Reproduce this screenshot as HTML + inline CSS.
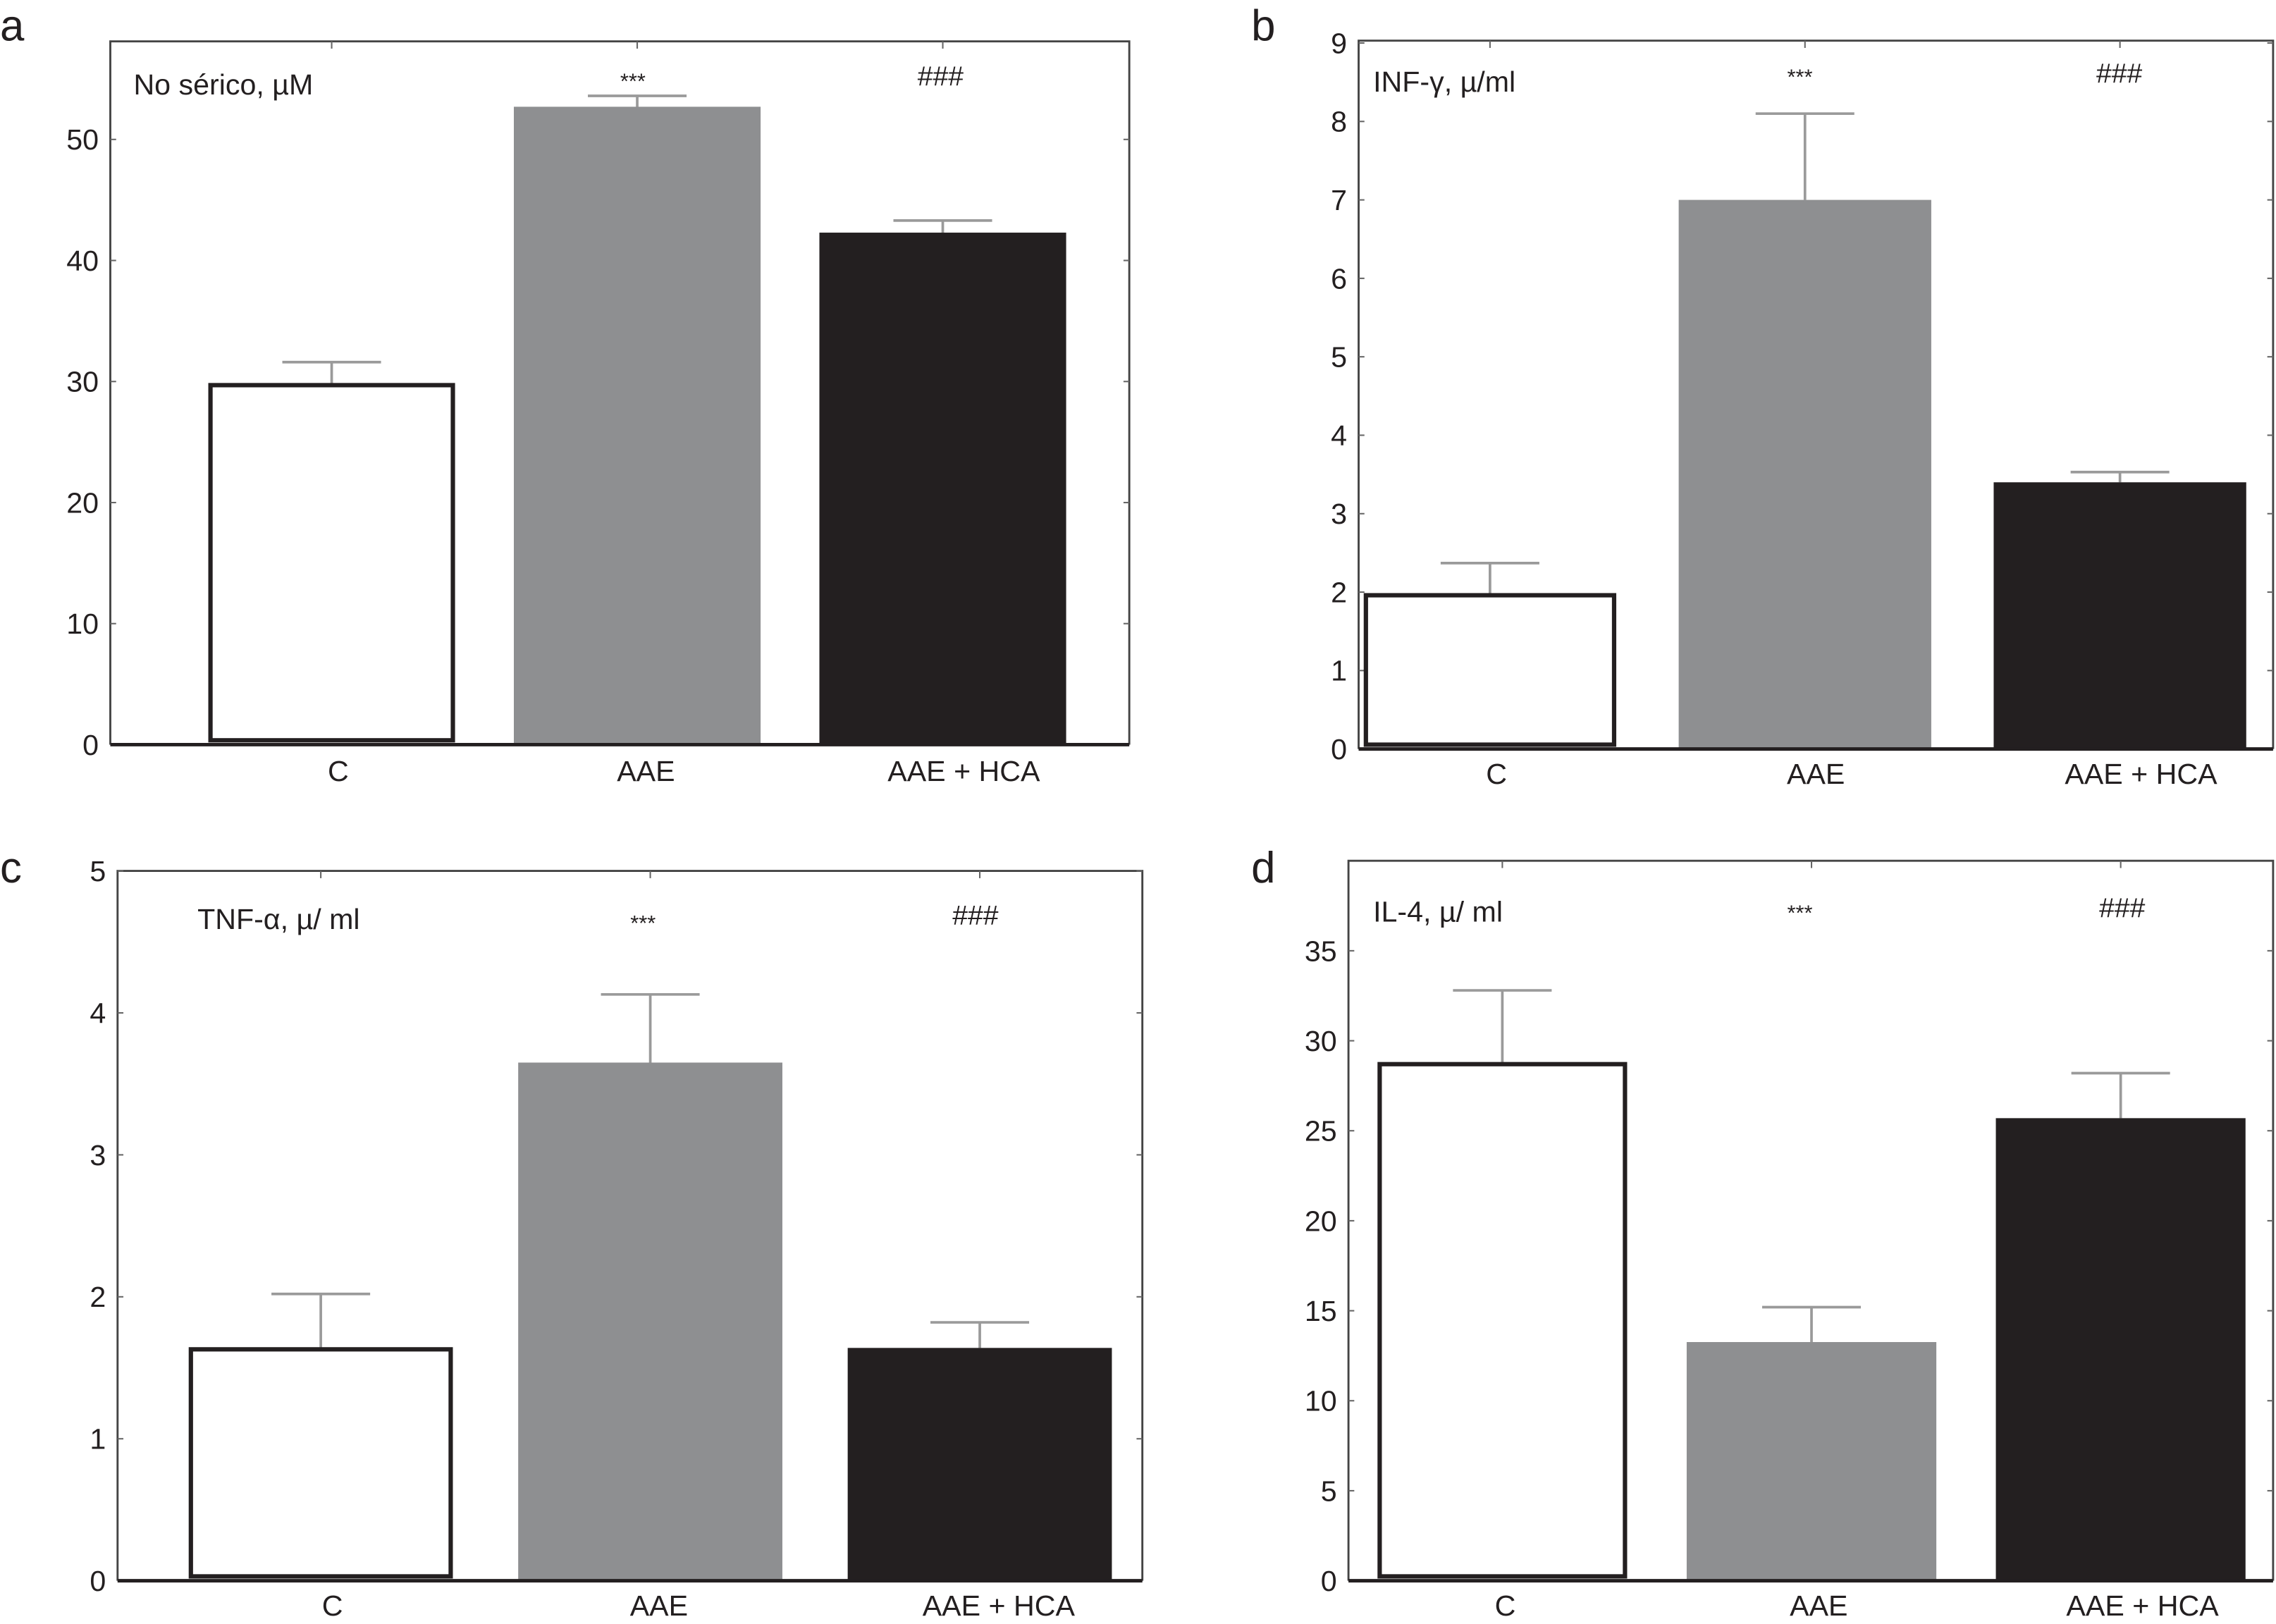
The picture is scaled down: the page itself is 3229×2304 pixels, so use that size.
<!DOCTYPE html>
<html><head><meta charset="utf-8"><style>
html,body{margin:0;padding:0;background:#fff;}
svg{display:block;}
text{font-family:"Liberation Sans",sans-serif;fill:#231f20;}
</style></head><body>
<svg id="fig" xmlns="http://www.w3.org/2000/svg" width="3229" height="2304" viewBox="0 0 1568 1118.8"></svg>
<script>
const categories = ["C", "AAE", "AAE + HCA"];
const valuesA = [29.7, 52.7, 42.3];
const errorsA = [31.6, 53.6, 43.3];
const ticksA = [0, 10, 20, 30, 40, 50];
const valuesB = [1.96, 7.0, 3.4];
const errorsB = [2.37, 8.1, 3.53];
const ticksB = [0, 1, 2, 3, 4, 5, 6, 7, 8, 9];
const valuesC = [1.63, 3.65, 1.64];
const errorsC = [2.02, 4.13, 1.82];
const ticksC = [0, 1, 2, 3, 4, 5];
const valuesD = [28.7, 13.26, 25.7];
const errorsD = [32.8, 15.2, 28.2];
const ticksD = [0, 5, 10, 15, 20, 25, 30, 35];
const titles = ["No sérico, µM", "INF-γ, µ/ml", "TNF-α, µ/ ml", "IL-4, µ/ ml"];
const letters = ["a", "b", "c", "d"];
const marks = ["***", "###"];

const NS = "http://www.w3.org/2000/svg";
const svg = document.getElementById("fig");
function mk(tag, attrs, parent, txt) {
  const e = document.createElementNS(NS, tag);
  for (const k in attrs) e.setAttribute(k, attrs[k]);
  if (txt !== undefined) e.textContent = txt;
  (parent || svg).appendChild(e);
  return e;
}
const fills = ["#ffffff", "#8e8f91", "#231f20"];

const panels = [
  {id:"a", vals:valuesA, errs:errorsA, ticks:ticksA, ymax:58.1, L:76, R:778, T:28.5, B:513, c0:228.5, step:210.5, bw:170, title:[92,58], star:[436,55], hash:[648,52], xl:531, xlc:[233,445,664], letter:[0,28]},
  {id:"b", vals:valuesB, errs:errorsB, ticks:ticksB, ymax:9.03, L:936, R:1566, T:28, B:516, c0:1026.5, step:217, bw:174, title:[946,56], star:[1240,52], hash:[1460,50], xl:533, xlc:[1031,1251,1475], letter:[862,28]},
  {id:"c", vals:valuesC, errs:errorsC, ticks:ticksC, ymax:5.0, L:81, R:787, T:600, B:1089, c0:221, step:227, bw:182, title:[136,633], star:[443,635], hash:[672,630], xl:1106, xlc:[229,454,688], letter:[0,608]},
  {id:"d", vals:valuesD, errs:errorsD, ticks:ticksD, ymax:40.0, L:929, R:1566, T:593, B:1089, c0:1035, step:213, bw:172, title:[946,628], star:[1240,628], hash:[1462,625], xl:1106, xlc:[1037,1253,1476], letter:[862,608]}
];

panels.forEach((p, pi) => {
  const g = mk("g", {});
  
  
  const y = v => p.B - (v / p.ymax) * (p.B - p.T);
  const x = i => p.c0 + i * p.step;

  const lt = mk("text", {x:p.letter[0], y:p.letter[1], "font-size":30}, g, letters[pi]);
  
  

  const fr = mk("path", {d:`M${p.L},${p.B} L${p.L},${p.T} L${p.R},${p.T} L${p.R},${p.B}`, fill:"none", stroke:"#444", "stroke-width":1.4}, g);
  
  

  p.ticks.forEach(t => {
    const yy = y(t);
    mk("line", {x1:p.L, x2:p.L+4, y1:yy, y2:yy, stroke:"#666", "stroke-width":1}, g);
    mk("line", {x1:p.R, x2:p.R-4, y1:yy, y2:yy, stroke:"#666", "stroke-width":1}, g);
    const tl = mk("text", {x:p.L-8, y:yy+7, "font-size":20, "text-anchor":"end"}, g, String(t));
    
    
  });

  p.vals.forEach((v, i) => {
    const cx = x(i);
    const top = y(v);
    const eb = mk("path", {d:`M${cx},${top} L${cx},${y(p.errs[i])} M${cx-34},${y(p.errs[i])} L${cx+34},${y(p.errs[i])}`, stroke:"#9a9a9a", "stroke-width":1.8, fill:"none"}, g);
    
    
    const r = mk("rect", {x:cx-p.bw/2, y:top, width:p.bw, height:p.B-top, fill:fills[i]}, g);
    if (i === 0) { r.setAttribute("stroke", "#231f20"); r.setAttribute("stroke-width", 3); r.setAttribute("x", cx-p.bw/2+1.5); r.setAttribute("width", p.bw-3); r.setAttribute("height", p.B-top-3); }
    
    
    mk("line", {x1:cx, x2:cx, y1:p.T, y2:p.T+5, stroke:"#666", "stroke-width":1}, g);
    const xl = mk("text", {x:p.xlc[i], y:p.xl+7, "font-size":20, "text-anchor":"middle"}, g, categories[i]);
    
    
  });

  const ax = mk("line", {x1:p.L, x2:p.R, y1:p.B, y2:p.B, stroke:"#231f20", "stroke-width":2.4}, g);
  
  

  const ti = mk("text", {x:p.title[0], y:p.title[1]+7, "font-size":20}, g, titles[pi]);
  
  
  const st = mk("text", {x:p.star[0], y:p.star[1]+6, "font-size":15, "text-anchor":"middle"}, g, marks[0]);
  
  
  const hs = mk("text", {x:p.hash[0], y:p.hash[1]+7, "font-size":19, "text-anchor":"middle"}, g, marks[1]);
  
  
});
</script>
</body></html>
